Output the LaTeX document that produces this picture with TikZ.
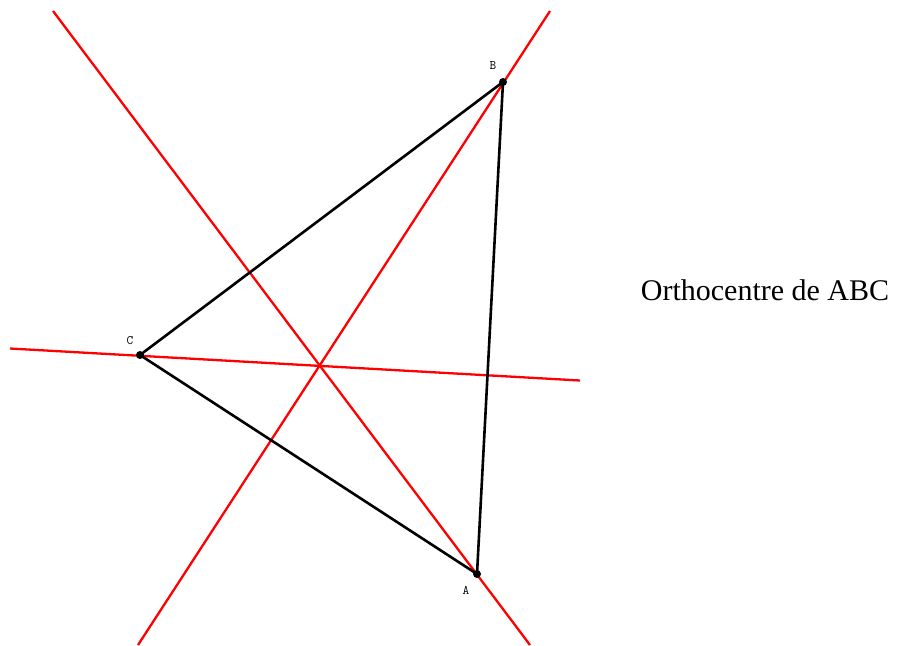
\documentclass[tikz,border=0pt]{standalone}
\usepackage{fontspec}
\setmainfont{Liberation Serif}
\begin{document}
\begin{tikzpicture}[x=1pt,y=-1pt,
  redline/.style={draw=red,line width=2.3pt},
  side/.style={draw=black,line width=2.6pt},
  pt/.style={circle,fill=black,inner sep=0pt,minimum size=8pt},
  lbl/.style={font=\fontsize{13}{13}\selectfont\ttfamily,inner sep=0pt}]
\useasboundingbox (0,0) rectangle (904,645);
\coordinate (A) at (477,574);
\coordinate (B) at (503,82);
\coordinate (C) at (140,355);
\coordinate (H) at (319.4,364.5);
% ends of the altitudes
\coordinate (hA1) at (53,11);
\coordinate (hA2) at (530,645);
\coordinate (hB1) at (550,11);
\coordinate (hB2) at (138,645);
\coordinate (hC1) at (10,348.5);
\coordinate (hC2) at (580,380.5);
\draw[redline] (hA1) -- (hA2);
\draw[redline] (hB1) -- (hB2);
\draw[redline] (hC1) -- (hC2);
\draw[side] (A) -- (B) -- (C) -- cycle;
\node[pt] (pA) at (A) {};
\node[pt] (pB) at (B) {};
\node[pt] (pC) at (C) {};
\node[lbl] (lA) at (466,590) {A};
\node[lbl] (lB) at (493,66) {B};
\node[lbl] (lC) at (130,341) {C};
\node[font=\fontsize{30}{31}\selectfont,inner sep=0pt] (title) at (765,290) {Orthocentre de ABC};
\end{tikzpicture}
\end{document}
